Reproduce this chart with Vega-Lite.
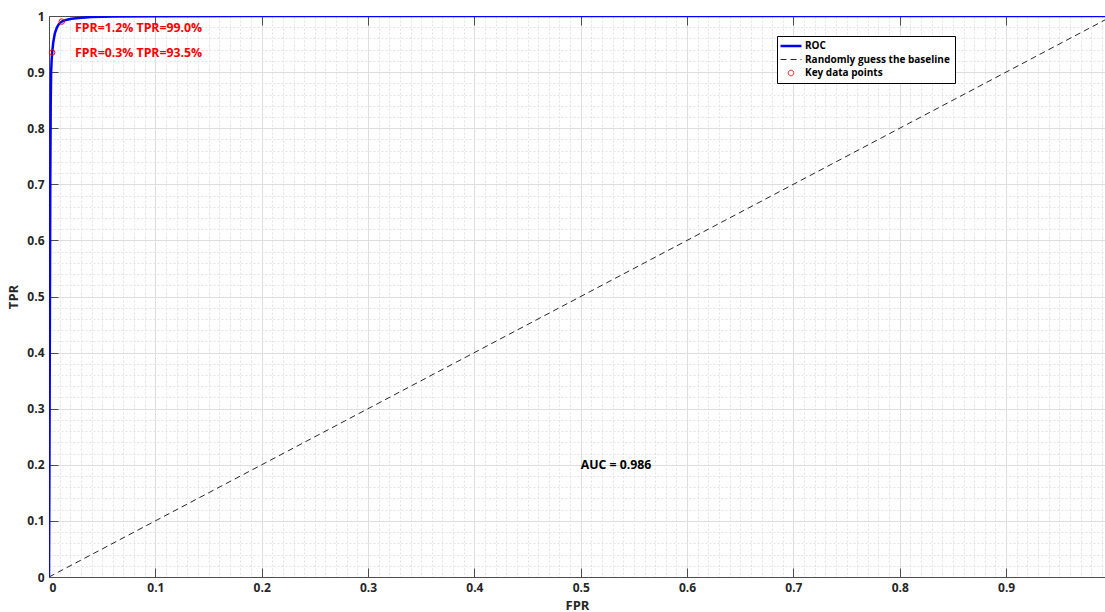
{
  "$schema": "https://vega.github.io/schema/vega-lite/v6.json",
  "width": 1056,
  "height": 561,
  "autosize": {"type": "none"},
  "padding": {"left": 49, "top": 16, "right": 0, "bottom": 35},
  "background": "white",
  "config": {
    "view": {"stroke": null},
    "font": "Open Sans",
    "axis": {"zindex": 0}
  },
  "datasets": {
    "roc": [
      {"fpr": 0, "tpr": 0, "series": "ROC"},
      {"fpr": 0.0004, "tpr": 0.2, "series": "ROC"},
      {"fpr": 0.0008, "tpr": 0.45, "series": "ROC"},
      {"fpr": 0.0012, "tpr": 0.7, "series": "ROC"},
      {"fpr": 0.0016, "tpr": 0.84, "series": "ROC"},
      {"fpr": 0.002, "tpr": 0.9, "series": "ROC"},
      {"fpr": 0.0025, "tpr": 0.922, "series": "ROC"},
      {"fpr": 0.003, "tpr": 0.935, "series": "ROC"},
      {"fpr": 0.004, "tpr": 0.953, "series": "ROC"},
      {"fpr": 0.0055, "tpr": 0.969, "series": "ROC"},
      {"fpr": 0.0075, "tpr": 0.98, "series": "ROC"},
      {"fpr": 0.0095, "tpr": 0.986, "series": "ROC"},
      {"fpr": 0.012, "tpr": 0.99, "series": "ROC"},
      {"fpr": 0.016, "tpr": 0.993, "series": "ROC"},
      {"fpr": 0.021, "tpr": 0.995, "series": "ROC"},
      {"fpr": 0.028, "tpr": 0.9965, "series": "ROC"},
      {"fpr": 0.04, "tpr": 0.998, "series": "ROC"},
      {"fpr": 0.06, "tpr": 0.999, "series": "ROC"},
      {"fpr": 0.1, "tpr": 0.9995, "series": "ROC"},
      {"fpr": 0.18, "tpr": 1.0, "series": "ROC"},
      {"fpr": 1.0, "tpr": 1.0, "series": "ROC"}
    ],
    "diag": [
      {"fpr": 0, "tpr": 0, "series": "Randomly guess the baseline"},
      {"fpr": 1, "tpr": 1, "series": "Randomly guess the baseline"}
    ],
    "keypts": [
      {"fpr": 0.012, "tpr": 0.99, "series": "Key data points", "label": "FPR=1.2% TPR=99.0%"},
      {"fpr": 0.003, "tpr": 0.935, "series": "Key data points", "label": "FPR=0.3% TPR=93.5%"}
    ]
  },
  "layer": [
    {
      "data": {"name": "diag"},
      "mark": {"type": "line", "clip": true, "strokeDash": [6, 4], "strokeWidth": 1},
      "encoding": {
        "x": {
          "field": "fpr", "type": "quantitative",
          "scale": {"domain": [0, 0.993], "nice": false, "zero": false},
          "axis": {
            "orient": "bottom", "title": null, "labels": false, "ticks": false, "domain": false,
            "grid": true, "gridColor": "#e3e3e3", "gridDash": [2, 2], "gridWidth": 1,
            "values": [0.01,0.02,0.03,0.04,0.05,0.06,0.07,0.08,0.09,0.11,0.12,0.13,0.14,0.15,0.16,0.17,0.18,0.19,0.21,0.22,0.23,0.24,0.25,0.26,0.27,0.28,0.29,0.31,0.32,0.33,0.34,0.35,0.36,0.37,0.38,0.39,0.41,0.42,0.43,0.44,0.45,0.46,0.47,0.48,0.49,0.51,0.52,0.53,0.54,0.55,0.56,0.57,0.58,0.59,0.61,0.62,0.63,0.64,0.65,0.66,0.67,0.68,0.69,0.71,0.72,0.73,0.74,0.75,0.76,0.77,0.78,0.79,0.81,0.82,0.83,0.84,0.85,0.86,0.87,0.88,0.89,0.91,0.92,0.93,0.94,0.95,0.96,0.97,0.98,0.99]
          }
        },
        "y": {
          "field": "tpr", "type": "quantitative",
          "scale": {"domain": [0, 1], "nice": false},
          "axis": {
            "orient": "left", "title": null, "labels": false, "ticks": false, "domain": false,
            "grid": true, "gridColor": "#e3e3e3", "gridDash": [2, 2], "gridWidth": 1,
            "values": [0.02,0.04,0.06,0.08,0.12,0.14,0.16,0.18,0.22,0.24,0.26,0.28,0.32,0.34,0.36,0.38,0.42,0.44,0.46,0.48,0.52,0.54,0.56,0.58,0.62,0.64,0.66,0.68,0.72,0.74,0.76,0.78,0.82,0.84,0.86,0.88,0.92,0.94,0.96,0.98]
          }
        },
        "color": {
          "field": "series", "type": "nominal",
          "scale": {"domain": ["ROC", "Randomly guess the baseline", "Key data points"], "range": ["#0000ff", "#262626", "#ff0000"]},
          "legend": {
            "orient": "none", "legendX": 728, "legendY": 20, "title": null,
            "strokeColor": "#000000", "fillColor": "#ffffff", "padding": 5,
            "labelFont": "Open Sans", "labelFontWeight": "bold", "labelFontSize": 10, "labelColor": "#000000",
            "labelOffset": 9, "rowPadding": 3.5, "symbolSize": 400, "symbolType": "stroke", "symbolStrokeWidth": 1,
            "symbolOffset": 4,
            "encode": {
              "symbols": {
                "update": {
                  "shape": {"signal": "datum.value === 'Key data points' ? 'circle' : 'stroke'"},
                  "size": {"signal": "datum.value === 'Key data points' ? 30 : 440"},
                  "strokeDash": {"signal": "datum.value === 'Randomly guess the baseline' ? [6, 4] : [1, 0]"},
                  "strokeWidth": {"signal": "datum.value === 'ROC' ? 2.5 : 1"},
                  "stroke": {"scale": "color", "field": "value"},
                  "fill": {"value": "transparent"},
                  "opacity": {"value": 1}
                }
              }
            }
          }
        }
      }
    },
    {
      "data": {"name": "roc"},
      "mark": {"type": "line", "clip": true, "strokeWidth": 2.5},
      "encoding": {
        "x": {
          "field": "fpr", "type": "quantitative",
          "axis": {
            "orient": "bottom", "title": "FPR", "titleFontWeight": "bold", "titleFontSize": 13, "titleColor": "#262626",
            "titlePadding": 6,
            "values": [0,0.1,0.2,0.3,0.4,0.5,0.6,0.7,0.8,0.9],
            "labelExpr": "'' + datum.value", "labelFontWeight": "bold", "labelFontSize": 12, "labelColor": "#262626",
            "labelPadding": 5, "ticks": false, "domain": true, "domainColor": "#4d4d4d", "domainWidth": 1,
            "grid": true, "gridColor": "#dedede", "gridWidth": 1
          }
        },
        "y": {
          "field": "tpr", "type": "quantitative",
          "axis": {
            "orient": "left", "title": "TPR", "titleFontWeight": "bold", "titleFontSize": 13, "titleColor": "#262626",
            "titlePadding": 6,
            "values": [0,0.1,0.2,0.3,0.4,0.5,0.6,0.7,0.8,0.9,1],
            "labelExpr": "'' + datum.value", "labelFontWeight": "bold", "labelFontSize": 12, "labelColor": "#262626",
            "labelPadding": 5, "ticks": false, "domain": true, "domainColor": "#4d4d4d", "domainWidth": 1,
            "grid": true, "gridColor": "#dedede", "gridWidth": 1
          }
        },
        "color": {"field": "series", "type": "nominal", "legend": null}
      }
    },
    {
      "data": {"name": "keypts"},
      "mark": {"type": "point", "shape": "circle", "filled": false, "size": 30, "strokeWidth": 1, "opacity": 1},
      "encoding": {
        "x": {
          "field": "fpr", "type": "quantitative",
          "axis": {"orient": "bottom", "title": null, "labels": false, "domain": false, "grid": false,
            "values": [0,0.1,0.2,0.3,0.4,0.5,0.6,0.7,0.8,0.9], "ticks": true, "tickSize": -9, "tickColor": "#4d4d4d"}
        },
        "y": {
          "field": "tpr", "type": "quantitative",
          "axis": {"orient": "left", "title": null, "labels": false, "domain": false, "grid": false,
            "values": [0,0.1,0.2,0.3,0.4,0.5,0.6,0.7,0.8,0.9,1], "ticks": true, "tickSize": -9, "tickColor": "#4d4d4d"}
        },
        "color": {"field": "series", "type": "nominal", "legend": null}
      }
    },
    {
      "data": {"name": "keypts"},
      "transform": [{"filter": "datum.fpr > 0.01"}],
      "mark": {"type": "text", "align": "left", "baseline": "middle", "dy": 6, "fontWeight": "bold", "fontSize": 12.3, "color": "#ff0000"},
      "encoding": {
        "x": {
          "datum": 0.0245, "type": "quantitative",
          "axis": {"orient": "top", "title": null, "labels": false, "domain": true, "domainColor": "#4d4d4d", "grid": false,
            "values": [0,0.1,0.2,0.3,0.4,0.5,0.6,0.7,0.8,0.9], "ticks": true, "tickSize": -9, "tickColor": "#4d4d4d"}
        },
        "y": {"field": "tpr", "type": "quantitative", "axis": null},
        "text": {"field": "label"}
      }
    },
    {
      "data": {"name": "keypts"},
      "transform": [{"filter": "datum.fpr < 0.01"}],
      "mark": {"type": "text", "align": "left", "baseline": "middle", "dy": 1, "fontWeight": "bold", "fontSize": 12.3, "color": "#ff0000"},
      "encoding": {
        "x": {"datum": 0.0245, "type": "quantitative", "axis": null},
        "y": {"field": "tpr", "type": "quantitative", "axis": null},
        "text": {"field": "label"}
      }
    },
    {
      "data": {"values": [{"label": "AUC = 0.986"}]},
      "mark": {"type": "text", "align": "left", "baseline": "middle", "fontWeight": "bold", "fontSize": 12.3, "color": "#000000"},
      "encoding": {
        "x": {"datum": 0.5, "type": "quantitative", "axis": null},
        "y": {"datum": 0.2, "type": "quantitative", "axis": null},
        "text": {"field": "label"}
      }
    }
  ],
  "resolve": {"axis": {"x": "independent", "y": "independent"}}
}
